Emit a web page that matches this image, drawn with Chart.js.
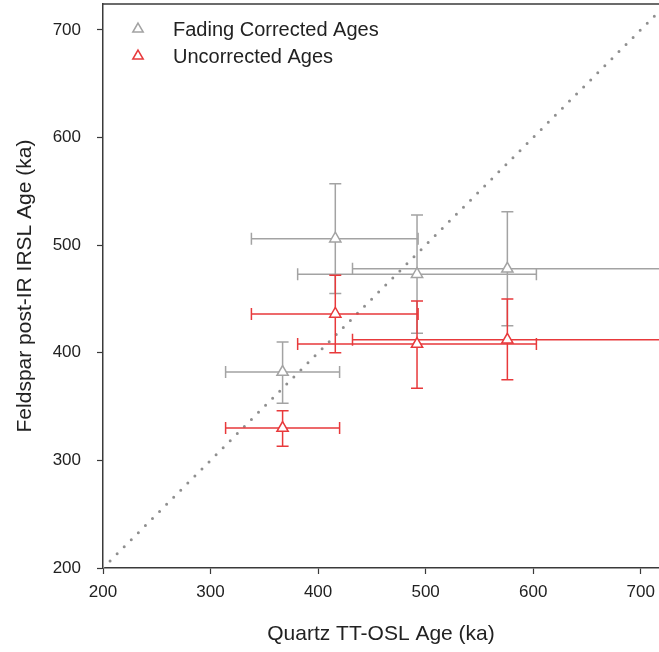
<!DOCTYPE html>
<html>
<head>
<meta charset="utf-8">
<title>Quartz TT-OSL vs Feldspar post-IR IRSL</title>
<script src="https://cdn.jsdelivr.net/npm/chart.js@4.4.1/dist/chart.umd.min.js"></script>
<style>
    html, body { margin: 0; padding: 0; background: #fff; }
    #wrap { width: 659px; height: 652px; position: relative; }
</style>
</head>
<body>
<div id="wrap"><canvas id="grafica"></canvas></div>
<script>
// =========================================================
// 1. DATA
// =========================================================
const quartzAges = [367, 416, 492, 576];          // x, ka
const quartzLow  = [314, 338, 381, 432];
const quartzHigh = [420, 493, 603, 720];

const fadingAges = [382, 506, 473, 478];          // gray, ka
const fadingLow  = [353, 455, 418, 425];
const fadingHigh = [410, 557, 528, 531];

const uncorrAges = [330, 436, 408, 412];          // red, ka
const uncorrLow  = [313, 400, 367, 375];
const uncorrHigh = [346, 472, 448, 450];

const xTicks = [200, 300, 400, 500, 600, 700];
const yTicks = [200, 300, 400, 500, 600, 700];
const oneToOne = [200, 740];

const seriesNames = ['Fading Corrected Ages', 'Uncorrected Ages'];

// colours
const GRIS = '#a3a3a3';
const ROJO = '#e8393b';
const TEXTO = '#222222';
const EJE = '#3a3a3a';

Chart.defaults.font.family = "'Liberation Sans', Arial, sans-serif";
Chart.defaults.color = TEXTO;

// =========================================================
// 2. ERROR BARS (drawn through the chart scales)
// =========================================================
const errores = {
    0: { color: GRIS, yLow: fadingLow, yHigh: fadingHigh, y: fadingAges },
    1: { color: ROJO, yLow: uncorrLow, yHigh: uncorrHigh, y: uncorrAges }
};

const pluginErrores = {
    id: 'errores',
    beforeDatasetDraw(chart, args) {
        const e = errores[args.index];
        if (!e) return;
        const { ctx, chartArea } = chart;
        const sx = chart.scales.x, sy = chart.scales.y;
        const cap = 6;
        ctx.save();
        ctx.beginPath();
        ctx.rect(chartArea.left, chartArea.top, chartArea.right - chartArea.left, chartArea.bottom - chartArea.top);
        ctx.clip();
        ctx.strokeStyle = e.color;
        ctx.lineWidth = 1.5;
        quartzAges.forEach((qx, i) => {
            const px = sx.getPixelForValue(qx);
            const py = sy.getPixelForValue(e.y[i]);
            const x1 = sx.getPixelForValue(quartzLow[i]);
            const x2 = sx.getPixelForValue(quartzHigh[i]);
            const y1 = sy.getPixelForValue(e.yLow[i]);
            const y2 = sy.getPixelForValue(e.yHigh[i]);
            ctx.beginPath();
            // horizontal
            ctx.moveTo(x1, py); ctx.lineTo(x2, py);
            ctx.moveTo(x1, py - cap); ctx.lineTo(x1, py + cap);
            ctx.moveTo(x2, py - cap); ctx.lineTo(x2, py + cap);
            // vertical
            ctx.moveTo(px, y1); ctx.lineTo(px, y2);
            ctx.moveTo(px - cap, y1); ctx.lineTo(px + cap, y1);
            ctx.moveTo(px - cap, y2); ctx.lineTo(px + cap, y2);
            ctx.stroke();
        });
        ctx.restore();
    }
};

// top frame line + legend inside the plot
const pluginMarco = {
    id: 'marco',
    afterDraw(chart) {
        const { ctx, chartArea } = chart;
        ctx.save();
        ctx.strokeStyle = EJE;
        ctx.lineWidth = 1.5;
        ctx.beginPath();
        ctx.moveTo(chartArea.left, chartArea.top);
        ctx.lineTo(chartArea.right, chartArea.top);
        ctx.stroke();

        const colores = [GRIS, ROJO];
        ctx.font = "20px 'Liberation Sans', Arial, sans-serif";
        ctx.textBaseline = 'middle';
        seriesNames.forEach((nombre, i) => {
            const y = chartArea.top + 25 + i * 27;
            ctx.strokeStyle = colores[i];
            ctx.fillStyle = '#fff';
            Chart.helpers.drawPoint(ctx, { pointStyle: 'triangle', radius: 6, borderWidth: 1.5, rotation: 0 }, chartArea.left + 35, y);
            ctx.fillStyle = TEXTO;
            ctx.fillText(nombre, chartArea.left + 70, y + 1);
        });
        ctx.restore();
    }
};

// no extra room for the edge labels: the plot runs to the canvas edge
const sinPadding = s => { s.paddingTop = 0; s.paddingRight = 0; s.paddingBottom = 0; s.paddingLeft = 0; };

// =========================================================
// 3. CHART
// =========================================================
const ctx = document.getElementById('grafica');
new Chart(ctx, {
    type: 'scatter',
    data: {
        datasets: [
            {
                label: seriesNames[0],
                data: quartzAges.map((x, i) => ({ x: x, y: fadingAges[i] })),
                pointStyle: 'triangle',
                pointRadius: 6.5,
                pointBackgroundColor: '#fff',
                pointBorderColor: GRIS,
                pointBorderWidth: 1.5,
                order: 2
            },
            {
                label: seriesNames[1],
                data: quartzAges.map((x, i) => ({ x: x, y: uncorrAges[i] })),
                pointStyle: 'triangle',
                pointRadius: 6.5,
                pointBackgroundColor: '#fff',
                pointBorderColor: ROJO,
                pointBorderWidth: 1.5,
                order: 1
            },
            {
                type: 'line',
                label: '1:1',
                data: oneToOne.map(v => ({ x: v, y: v })),
                borderColor: '#8f8f8f',
                borderWidth: 3,
                borderDash: [0, 10],
                borderCapStyle: 'round',
                pointRadius: 0,
                fill: false,
                order: 3
            }
        ]
    },
    options: {
        responsive: true,
        maintainAspectRatio: false,
        animation: false,
        layout: { autoPadding: false, padding: { top: 4, right: 0, bottom: 0, left: 0 } },
        plugins: {
            legend: { display: false },
            tooltip: { enabled: false }
        },
        scales: {
            x: {
                type: 'linear',
                min: 200,
                max: 717,
                afterBuildTicks: s => { s.ticks = xTicks.map(v => ({ value: v })); },
                afterFit: s => { s.height = 84; sinPadding(s); },
                ticks: { font: { size: 17 }, color: TEXTO, padding: 8, includeBounds: false },
                grid: { drawOnChartArea: false, drawTicks: true, tickLength: 6, tickColor: EJE, tickWidth: 1.2 },
                border: { display: true, color: EJE, width: 1.5 },
                title: {
                    display: true,
                    text: 'Quartz TT-OSL Age (ka)',
                    font: { size: 21 },
                    color: TEXTO,
                    padding: { top: 0, bottom: 5 }
                }
            },
            y: {
                type: 'linear',
                min: 200,
                max: 724,
                afterBuildTicks: s => { s.ticks = yTicks.map(v => ({ value: v })); },
                afterFit: s => { s.width = 103; sinPadding(s); },
                ticks: { font: { size: 17 }, color: TEXTO, padding: 16, includeBounds: false },
                grid: { drawOnChartArea: false, drawTicks: true, tickLength: 6, tickColor: EJE, tickWidth: 1.2 },
                border: { display: true, color: EJE, width: 1.5 },
                title: {
                    display: true,
                    text: 'Feldspar post-IR IRSL Age (ka)',
                    font: { size: 21 },
                    color: TEXTO,
                    padding: { top: 13, bottom: 0 }
                }
            }
        }
    },
    plugins: [pluginErrores, pluginMarco]
});
</script>
</body>
</html>
